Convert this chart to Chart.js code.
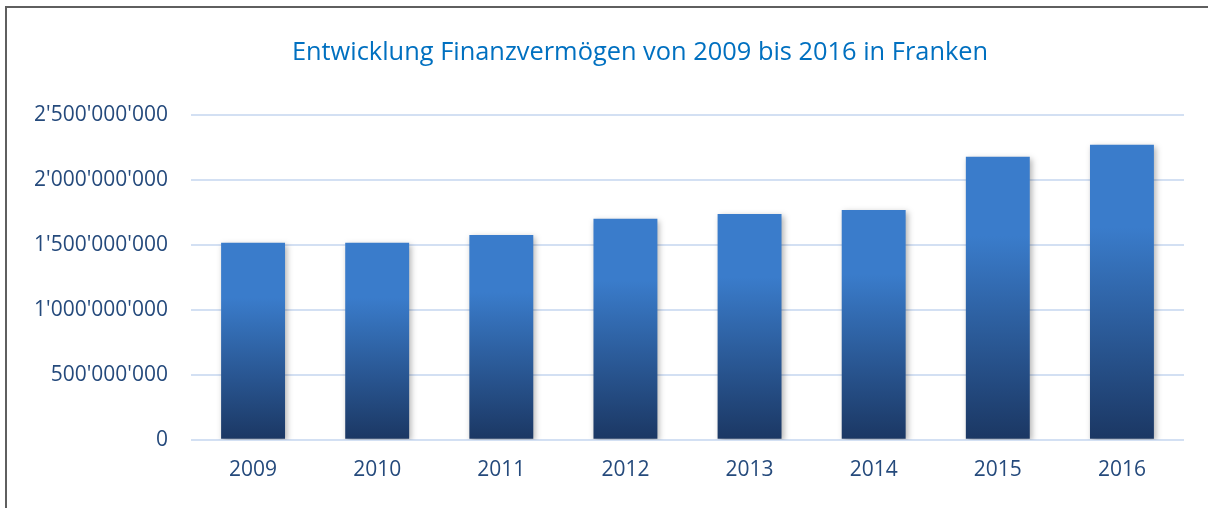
<!DOCTYPE html>
<html>
<head>
<meta charset="utf-8">
<script src="https://cdn.jsdelivr.net/npm/chart.js@4/dist/chart.umd.min.js"></script>
<style>
  html, body { margin: 0; padding: 0; background: #fff; overflow: hidden; }
  #frame { position: absolute; left: 5px; top: 6px; width: 1400px; height: 700px;
           border-left: 2px solid #5f5f5f; border-top: 2px solid #5f5f5f; }
  #chart { position: absolute; left: 0; top: 0; }
</style>
</head>
<body>
<div id="frame"></div>
<canvas id="chart" width="1280" height="508"></canvas>
<script>
// Jahre und Finanzvermögen (Franken)
var years = ["2009", "2010", "2011", "2012", "2013", "2014", "2015", "2016"];
var values = [1518000000, 1519000000, 1579000000, 1703000000, 1741000000, 1772000000, 2181000000, 2274000000];
var yTicks = [0, 500000000, 1000000000, 1500000000, 2000000000, 2500000000];

var titleText = "Entwicklung Finanzvermögen von 2009 bis 2016 in Franken";
var labelColor = "#254A7C";

function fmt(v) {
  return String(v).replace(/\B(?=(\d{3})+(?!\d))/g, "'");
}

// Verlauf pro Balken: oben flach hellblau, unten dunkelblau
function barFill(c) {
  var chart = c.chart;
  if (!chart.chartArea || c.raw == null) return "#3A7CCB";
  var y = chart.scales.y;
  var top = y.getPixelForValue(c.raw), bottom = y.getPixelForValue(0);
  var g = chart.ctx.createLinearGradient(0, top, 0, bottom);
  g.addColorStop(0, "#3A7CCB");
  g.addColorStop(0.28, "#3A7CCB");
  g.addColorStop(1, "#1B3763");
  return g;
}

var shadow = {
  id: "shadow",
  beforeDatasetsDraw: function (chart) {
    var ctx = chart.ctx;
    ctx.save();
    ctx.shadowColor = "rgba(0,0,0,0.3)";
    ctx.shadowBlur = 6;
    ctx.shadowOffsetX = 2;
    ctx.shadowOffsetY = 2;
  },
  afterDatasetsDraw: function (chart) {
    chart.ctx.restore();
  }
};

var ctx = document.getElementById("chart");
var finChart = new Chart(ctx, {
  type: "bar",
  data: {
    labels: years,
    datasets: [{
      data: values,
      backgroundColor: barFill,
      borderWidth: 0,
      barPercentage: 0.515,
      categoryPercentage: 1
    }]
  },
  plugins: [shadow],
  options: {
    responsive: false,
    animation: false,
    layout: { padding: { left: 0, right: 0, top: 0, bottom: 7 } },
    plugins: {
      legend: { display: false },
      tooltip: { enabled: false },
      title: {
        display: true,
        text: titleText,
        color: "#0070C0",
        font: { family: "Open Sans", size: 25.4, weight: "normal" },
        padding: { top: 38, bottom: 47 }
      }
    },
    scales: {
      x: {
        grid: { display: false, drawTicks: false },
        border: { display: false },
        ticks: { color: labelColor, padding: 18, font: { family: "Open Sans", size: 21 } }
      },
      y: {
        min: 0,
        max: 2500000000,
        afterFit: function (s) { s.width = 191; },
        afterBuildTicks: function (s) { s.ticks = yTicks.map(function (v) { return { value: v }; }); },
        grid: { color: "#D3E0F3", lineWidth: 2, drawTicks: false },
        border: { display: false },
        ticks: {
          color: labelColor,
          padding: 23,
          font: { family: "Open Sans", size: 21 },
          callback: function (v) { return fmt(v); }
        }
      },
      // leere Achse rechts, hält den Rand frei
      yRight: {
        position: "right",
        afterFit: function (s) { s.width = 96; },
        grid: { display: false, drawTicks: false },
        border: { display: false },
        ticks: { display: false }
      }
    }
  }
});
</script>
</body>
</html>
